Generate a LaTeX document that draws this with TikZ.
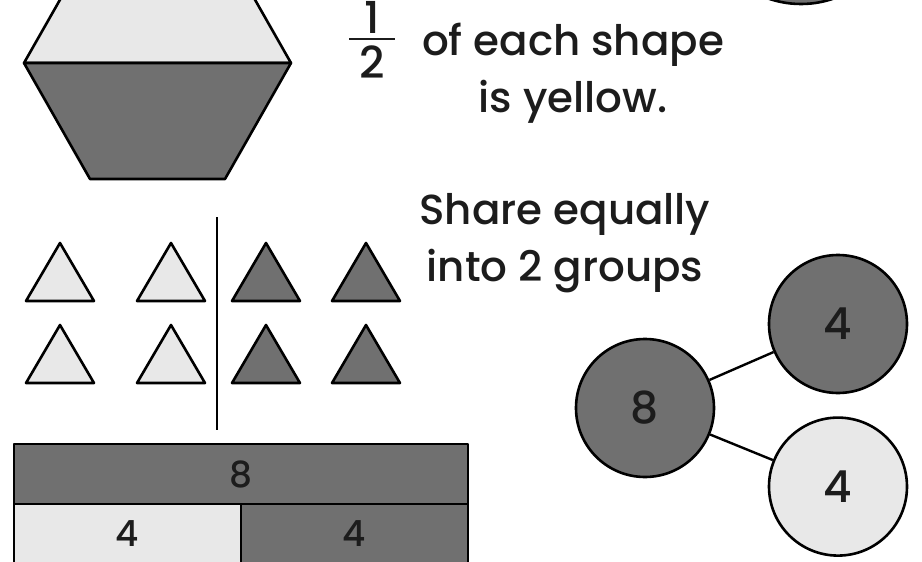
\documentclass[tikz,border=0pt]{standalone}
\usepackage{fontspec}
\setmainfont{Poppins Medium}
\usetikzlibrary{positioning}

\definecolor{darkfill}{HTML}{707070}
\definecolor{lightfill}{HTML}{E8E8E8}
\definecolor{ink}{HTML}{1C1C1C}

\begin{document}
\begin{tikzpicture}[
  x=0.5pt, y=-0.5pt,
  outline/.style={draw=black, line width=1.3pt, line join=round},
  darkpart/.style={outline, fill=darkfill},
  lightpart/.style={outline, fill=lightfill},
  note/.style={text=ink, font=\fontsize{21}{28.5}\selectfont, align=center, inner sep=0pt},
  part/.style={circle, outline, minimum size=69pt, inner sep=0pt, text=ink, font=\fontsize{22}{24}\selectfont},
  cell/.style={rectangle, outline, outer sep=0pt, minimum height=30pt, inner sep=0pt, text=ink, font=\fontsize{18}{20}\selectfont},
  link/.style={line width=1.2pt}
]
\useasboundingbox (0,0) rectangle (922,562);
\clip (0,0) rectangle (922,562);

% hexagon: top half light, bottom half dark
\draw[lightpart] (24,63) -- (90,-53) -- (225,-53) -- (291,63) -- cycle;
\draw[darkpart] (24,63) -- (291,63) -- (225,179) -- (90,179) -- cycle;

% shape cut off at the top edge
\draw[darkpart] (801,-96) circle[radius=100];

\node[note, font=\fontsize{22}{28}\selectfont] (half) at (372,40) {\vbox{\hbox to 23pt{\hss 1\hss}\kern2pt\hrule height 1.3pt\kern2.5pt\hbox to 23pt{\hss 2\hss}}};
\node[note] (yellow) at (573,73) {of each shape\\is yellow.};
\node[note] (share) at (565,243) {Share equally\\into 2 groups};

% 8 triangles, 4 in each group
\foreach \x/\s in {60/lightpart, 171/lightpart, 266/darkpart, 366/darkpart}
  \foreach \y in {301, 383}
    \draw[\s] (\x-34,\y) -- (\x,\y-58) -- (\x+34,\y) -- cycle;
\draw[link] (217,217) -- (217,430);

% bar model
\node[cell, fill=darkfill, minimum width=227pt, anchor=north west] (wholebar) at (14,444) {8};
\node[cell, fill=lightfill, minimum width=113.5pt, below right=0pt and 0pt of wholebar.south west] (barL) {4};
\node[cell, fill=darkfill, minimum width=113.5pt, right=0pt of barL] (barR) {4};

% part-whole model
\node[part, fill=darkfill] (whole) at (645,408) {8};
\node[part, fill=darkfill] (partA) at (838,324) {4};
\node[part, fill=lightfill, below=11pt of partA] (partB) {4};
\draw[link] (whole) -- (partA);
\draw[link] (whole) -- (partB);

\end{tikzpicture}
\end{document}
